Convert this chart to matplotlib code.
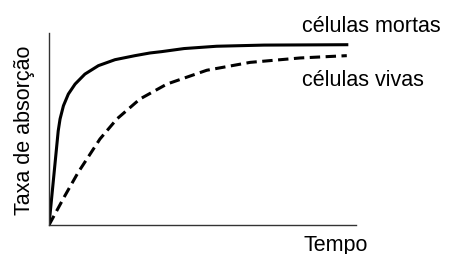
import matplotlib
matplotlib.use("Agg")
from matplotlib import pyplot as plt

# values (time 0-100, uptake 0-100)
tempo_mortas = [0, 3.0, 3.6, 4.7, 6.3, 8.5, 11.7, 16.1, 21.5, 28.0, 32.9, 36.7, 44.0, 54.6, 70.0, 97.0]
taxa_mortas = [0, 49.0, 55.2, 62.1, 68.2, 73.4, 78.6, 83.0, 86.1, 88.2, 89.6, 90.3, 91.9, 93.1, 93.7, 93.9]

tempo_vivas = [0, 5.2, 9.5, 16.6, 22.1, 29.6, 38.4, 51.4, 65.5, 81.8, 97.0]
taxa_vivas = [0, 15.3, 27.4, 44.8, 55.2, 65.6, 73.4, 80.6, 84.7, 87.0, 88.2]

plt.rcParams['font.family'] = ['Liberation Sans', 'DejaVu Sans']

fig = plt.figure(figsize=(4.5, 2.55), dpi=100)
ax = fig.add_axes([49/450, 1 - 226/255, 307/450, 192/255])

ax.plot(tempo_mortas, taxa_mortas, color='black', lw=2.2, solid_joinstyle='round')
ax.plot(tempo_vivas, taxa_vivas, color='black', lw=2.2, dashes=(3.4, 1.8))

ax.set_xlim(0, 100)
ax.set_ylim(0, 100)
for side in ['top', 'right']:
    ax.spines[side].set_visible(False)
for side in ['left', 'bottom']:
    ax.spines[side].set_color('#333333')
    ax.spines[side].set_linewidth(1.0)
ax.set_xticks([])
ax.set_yticks([])

fs = 15.5
fig.text(302/450, 1 - 26/255, 'células mortas', fontsize=fs, va='center', ha='left')
fig.text(302/450, 1 - 80/255, 'células vivas', fontsize=fs, va='center', ha='left')
fig.text(304/450, 1 - 246/255, 'Tempo', fontsize=fs, va='center', ha='left')
fig.text(25/450, 1 - 130/255, 'Taxa de absorção', fontsize=fs, va='center', ha='center', rotation=90)

fig.savefig('out.png', dpi=100)
